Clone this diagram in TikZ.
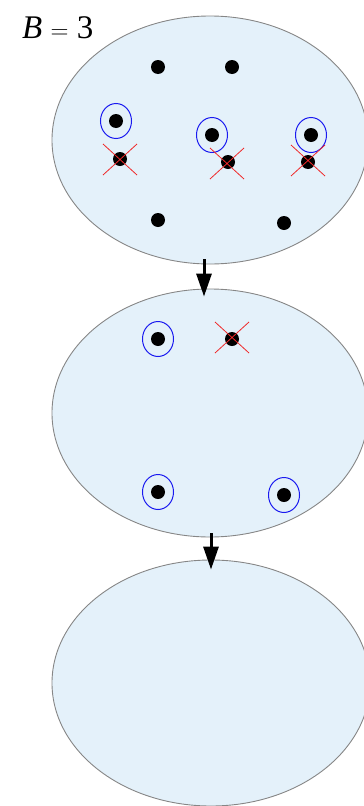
\documentclass[tikz,border=0pt]{standalone}
\usepackage{fontspec}
\setmainfont{Liberation Serif}
\usetikzlibrary{arrows.meta,shapes.geometric}
\definecolor{Sky}{HTML}{E4F1FA}
\definecolor{Rim}{HTML}{868686}
\definecolor{Ring}{HTML}{1A1AF0}
\definecolor{Strike}{HTML}{F02828}

\begin{document}
\begin{tikzpicture}[x=1pt,y=-1pt,>=Stealth,
    pool/.style={draw=Rim,fill=Sky,ellipse,line width=0.9pt,minimum width=316pt,minimum height=248pt,inner sep=0pt},
    dot/.style={circle,fill=black,inner sep=0pt,minimum size=14pt},
    ring/.style={draw=Ring,ellipse,line width=1pt,minimum width=31pt,minimum height=35pt,inner sep=0pt},
    strike/.style={draw=Strike,line width=0.8pt},
    flow/.style={line width=3pt,-{Triangle[length=23pt,width=15pt]}}]
        \useasboundingbox (0,0) rectangle (364,806);
        % pools
        \node[pool] (top) at (210,140) {};
        \node[pool] (mid) at (210,413) {};
        \node[pool,minimum width=318pt,minimum height=246pt] (low) at (211,683) {};
        \node[font=\fontsize{33}{38}\selectfont,anchor=base west,inner sep=0pt] (lbl) at (22,38) {\textit{B} $=$ 3};
        % first pool
        \node[dot] (a1) at (158,67) {};
        \node[dot] (a2) at (232,67) {};
        \node[dot] (a3) at (116,121) {};
        \node[dot] (a4) at (212,135) {};
        \node[dot] (a5) at (311,135) {};
        \node[dot] (a6) at (120,159) {};
        \node[dot] (a7) at (228,162) {};
        \node[dot] (a8) at (308,162) {};
        \node[dot] (a9) at (158,220) {};
        \node[dot] (a10) at (284,223) {};
        \node[ring] (r3) at (a3) {};
        \node[ring] (r4) at (a4) {};
        \node[ring] (r5) at (a5) {};
        \draw[strike] (a6) +(-17,-15) -- +(17,16) (a6) +(-17,16) -- +(17,-15);
        \draw[strike] (a7) +(-18,-14) -- +(16,17) (a7) +(-18,17) -- +(16,-14);
        \draw[strike] (a8) +(-17,-17) -- +(17,14) (a8) +(-17,14) -- +(17,-17);
        % second pool
        \node[dot] (b1) at (158,339) {};
        \node[dot] (b2) at (232,339) {};
        \node[dot] (b3) at (158,492) {};
        \node[dot] (b4) at (284,495) {};
        \node[ring] (s1) at (b1) {};
        \node[ring] (s3) at (b3) {};
        \node[ring] (s4) at (b4) {};
        \draw[strike] (b2) +(-17,-17) -- +(17,14) (b2) +(-17,14) -- +(17,-17);
        % steps
        \draw[flow] ([xshift=-6pt,yshift=5pt]top.south) -- ([xshift=-6pt,yshift=-8pt]mid.north);
        \draw[flow] ([xshift=1pt,yshift=4pt]mid.south) -- ([xshift=0pt,yshift=-10pt]low.north);
      \end{tikzpicture}
\end{document}
